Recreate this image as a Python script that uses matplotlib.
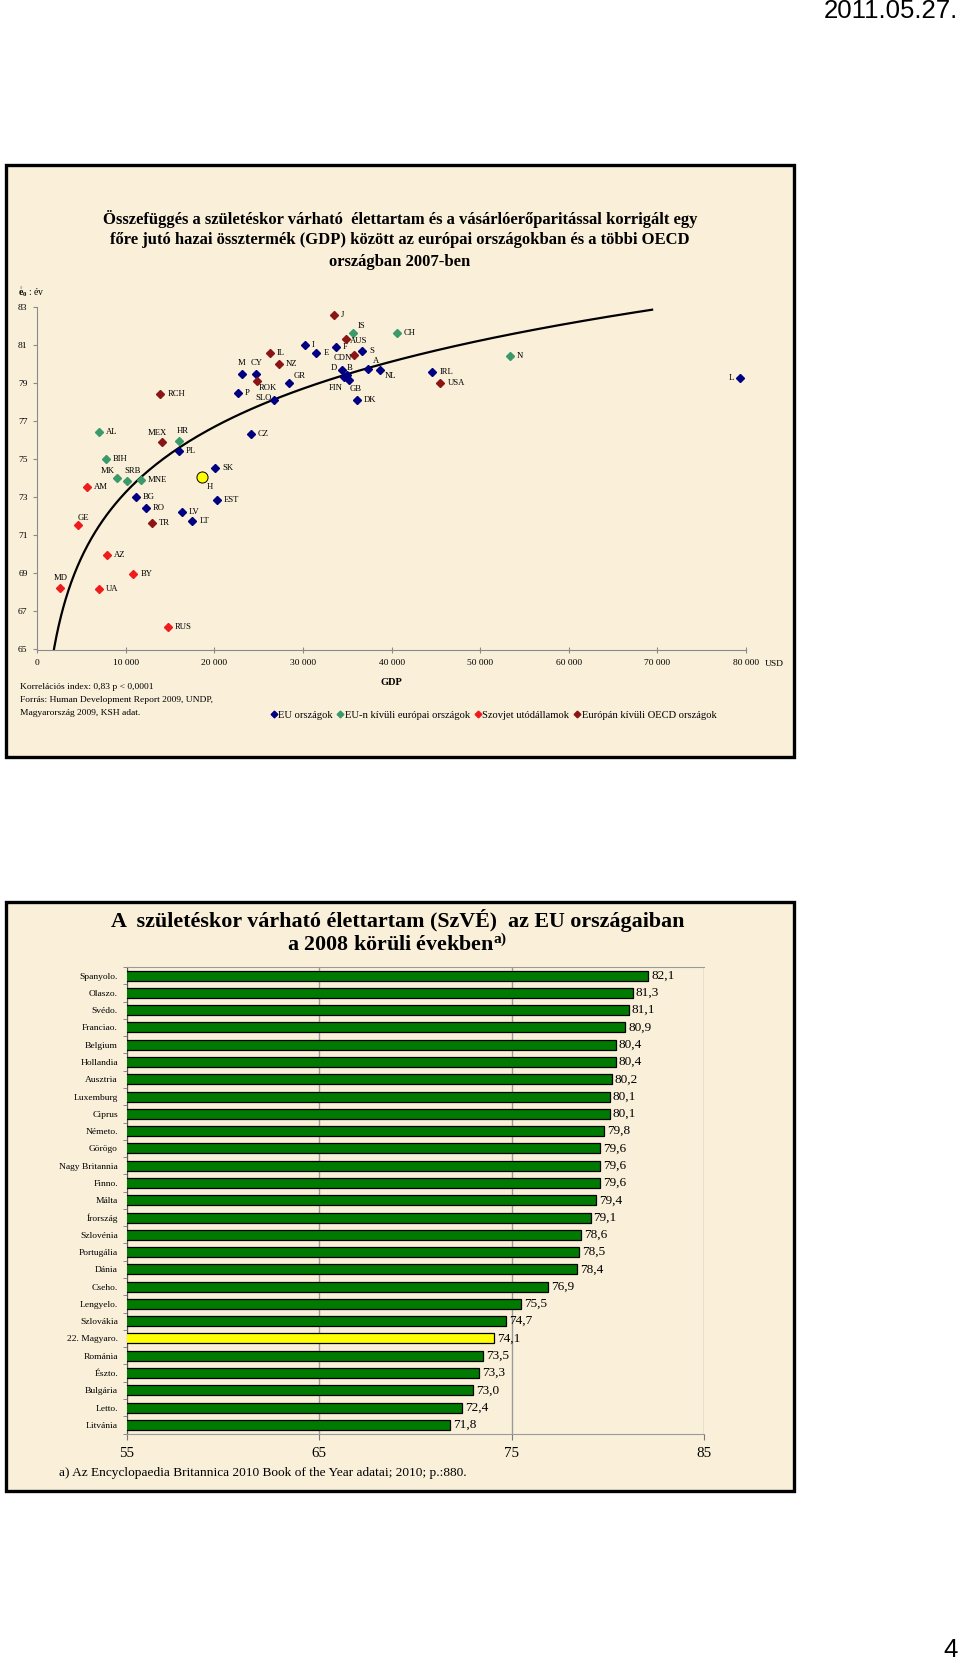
import numpy as np
import matplotlib
matplotlib.use("Agg")
import matplotlib.pyplot as plt
from matplotlib.lines import Line2D
from matplotlib.patches import Rectangle

# --- scatter: GDP per head (PPP, USD) vs life expectancy at birth (years), 2007
eu_codes = ["I", "F", "E", "S", "D", "B", "FIN", "GB", "A", "NL", "DK", "M", "CY", "GR", "P",
            "SLO", "CZ", "IRL", "L", "PL", "SK", "BG", "EST", "RO", "LV", "LT"]
eu_gdp = [30200, 33700, 31500, 36650, 34350, 34950, 34600, 35200, 37300, 38700, 36100, 23100,
          24700, 28450, 22650, 26700, 24100, 44600, 79300, 15950, 20050, 11150, 20300, 12250,
          16300, 17500]
eu_e0 = [81.03, 80.90, 80.60, 80.73, 79.71, 79.46, 79.32, 79.18, 79.78, 79.71, 78.13, 79.48,
         79.48, 79.01, 78.52, 78.13, 76.36, 79.62, 79.31, 75.45, 74.55, 73.03, 72.87, 72.43,
         72.25, 71.75]

eur_codes = ["IS", "CH", "N", "AL", "HR", "BIH", "MK", "SRB", "MNE"]
eur_gdp = [35650, 40550, 53350, 6950, 15950, 7750, 9050, 10150, 11700]
eur_e0 = [81.64, 81.64, 80.43, 76.43, 75.96, 75.03, 74.03, 73.85, 73.92]

sov_codes = ["AM", "GE", "AZ", "BY", "MD", "UA", "RUS"]
sov_gdp = [5650, 4650, 7850, 10850, 2550, 6950, 14700]
sov_e0 = [73.54, 71.53, 69.97, 68.99, 68.25, 68.18, 66.18]

oecd_codes = ["J", "AUS", "CDN", "IL", "NZ", "ROK", "RCH", "USA", "MEX", "TR"]
oecd_gdp = [33500, 34800, 35750, 26250, 27250, 24750, 13900, 45500, 14050, 12950]
oecd_e0 = [82.60, 81.34, 80.50, 80.62, 80.00, 79.13, 78.43, 79.03, 75.92, 71.66]

hu_code = "H"
hu_gdp = 18600
hu_e0 = 74.06

# the trend line of the original stops here and leaves Luxembourg out
trend_end = 69400
trend_skip = ["L"]

legend_labels = ["EU országok", "EU-n kívüli európai országok", "Szovjet utódállamok",
                 "Európán kívüli OECD országok"]

# --- bar chart: life expectancy in EU countries around 2008
countries = ["Spanyolo.", "Olaszo.", "Svédo.", "Franciao.", "Belgium", "Hollandia", "Ausztria",
             "Luxemburg", "Ciprus", "Németo.", "Görögo", "Nagy Britannia", "Finno.", "Málta",
             "Írország", "Szlovénia", "Portugália", "Dánia", "Cseho.", "Lengyelo.", "Szlovákia",
             "22. Magyaro.", "Románia", "Észto.", "Bulgária", "Letto.", "Litvánia"]
life_exp = [82.1, 81.3, 81.1, 80.9, 80.4, 80.4, 80.2, 80.1, 80.1, 79.8, 79.6, 79.6, 79.6, 79.4,
            79.1, 78.6, 78.5, 78.4, 76.9, 75.5, 74.7, 74.1, 73.5, 73.3, 73.0, 72.4, 71.8]
highlight = "22. Magyaro."

# label placement (pixels) for the scatter codes: dx, dy, ha
lab_pos = {"IS": (5, 7, "left"), "AUS": (4, -2, "left"), "CDN": (-2, -3, "right"),
           "A": (5, 8, "left"), "NL": (5, -6, "left"), "D": (-5, 2, "right"),
           "B": (0, 7, "left"), "FIN": (-8, -11, "center"), "GB": (6, -9, "center"),
           "GR": (4, 7, "left"), "M": (0, 11, "center"), "CY": (1, 11, "center"),
           "ROK": (2, -7, "left"), "SLO": (-2, 2, "right"), "L": (-6, 0, "right"),
           "MEX": (-4, 9, "center"), "HR": (4, 10, "center"), "MK": (-10, 7, "center"),
           "SRB": (5, 10, "center"), "H": (5, -10, "left"), "GE": (5, 7, "center"),
           "MD": (1, 10, "center")}

W, H = 960, 1662
serif = "Liberation Serif"
cream = "#FAF0DA"
plt.rcParams["font.family"] = serif
plt.rcParams["mathtext.fontset"] = "custom"
plt.rcParams["mathtext.rm"] = serif
plt.rcParams["mathtext.it"] = serif + ":italic"
plt.rcParams["mathtext.bf"] = serif + ":bold"


def fx(px):
    return px / W


def fy(py):
    return 1 - py / H


fig = plt.figure(figsize=(W / 100, H / 100), dpi=100)
fig.patch.set_facecolor("white")

# page furniture
fig.text(fx(958), fy(11), "2011.05.27.", ha="right", va="center", fontsize=18.5,
         family="Liberation Sans")
fig.text(fx(958), fy(1650), "4", ha="right", va="center", fontsize=18.5, family="Liberation Sans")

# frames
for top, bot in [(165, 757), (902, 1491)]:
    fig.add_artist(Rectangle((fx(6), fy(bot)), fx(794) - fx(6), fy(top) - fy(bot),
                             transform=fig.transFigure, facecolor=cream, edgecolor="black",
                             lw=2.4, zorder=0))

# ---------------- scatter ----------------
title1 = ["Összefüggés a születéskor várható  élettartam és a vásárlóerőparitással korrigált egy",
          "főre jutó hazai össztermék (GDP) között az európai országokban és a többi OECD",
          "országban 2007-ben"]
for i, line in enumerate(title1):
    fig.text(fx(400), fy(219 + 21.5 * i), line, ha="center", va="center", fontsize=12,
             fontweight="bold")

ax = fig.add_axes([fx(37.3), fy(649.5), fx(746) - fx(37.3), fy(307.5) - fy(649.5)])
ax.patch.set_alpha(0)
ax.set_xlim(0, 80000)
ax.set_ylim(65, 83)
for s in ["top", "right"]:
    ax.spines[s].set_visible(False)
for s in ["left", "bottom"]:
    ax.spines[s].set_color("#8a8a8a")
    ax.spines[s].set_linewidth(0.8)
ax.set_xticks(np.arange(0, 80001, 10000))
ax.set_xticklabels(["0", "10 000", "20 000", "30 000", "40 000", "50 000", "60 000", "70 000",
                    "80 000"])
ax.set_yticks(np.arange(65, 84, 2))
ax.tick_params(axis="x", direction="inout", length=4, color="#8a8a8a", labelsize=6.8, pad=5)
ax.tick_params(axis="y", direction="out", length=3, color="#8a8a8a", labelsize=6.8, pad=4)

groups = [(eu_codes, eu_gdp, eu_e0, "#000080"),
          (eur_codes, eur_gdp, eur_e0, "#3A9A6C"),
          (sov_codes, sov_gdp, sov_e0, "#EE1C1C"),
          (oecd_codes, oecd_gdp, oecd_e0, "#8B1414")]

fit_x, fit_y = [hu_gdp], [hu_e0]
for codes, gdp, e0, col in groups:
    for c, x, y in zip(codes, gdp, e0):
        if c not in trend_skip:
            fit_x.append(x)
            fit_y.append(y)
b, a = np.polyfit(np.log(fit_x), fit_y, 1)
tx = np.geomspace(800, trend_end, 300)
ax.plot(tx, a + b * np.log(tx), color="black", lw=1.6, zorder=2)

for codes, gdp, e0, col in groups:
    ax.plot(gdp, e0, ls="none", marker="D", ms=3.7, color=col, mec=col, zorder=3)
    for c, x, y in zip(codes, gdp, e0):
        dx, dy, ha = lab_pos.get(c, (7, 0, "left"))
        ax.annotate(c, (x, y), xytext=(dx, dy), textcoords="offset pixels", ha=ha,
                    va="center", fontsize=6.2)
ax.plot([hu_gdp], [hu_e0], ls="none", marker="o", ms=8, mfc="#FFFF00", mec="black", mew=0.7,
        zorder=4)
dx, dy, ha = lab_pos[hu_code]
ax.annotate(hu_code, (hu_gdp, hu_e0), xytext=(dx, dy), textcoords="offset pixels", ha=ha,
            va="center", fontsize=6.2)

fig.text(fx(18), fy(292), r"$\mathring{\mathbf{e}}_{\mathbf{0}}$ : év", ha="left", va="center",
         fontsize=7)
fig.text(fx(765), fy(663.5), "USD", ha="left", va="center", fontsize=6.8)
fig.text(fx(391), fy(683), "GDP", ha="center", va="center", fontsize=7.5, fontweight="bold")
notes = ["Korrelációs index: 0,83 p < 0,0001", "Forrás: Human Development Report 2009, UNDP,",
         "Magyarország 2009, KSH adat."]
for i, line in enumerate(notes):
    fig.text(fx(20), fy(687 + 13 * i), line, ha="left", va="center", fontsize=6.8)

handles = [Line2D([], [], ls="none", marker="D", ms=3.4, color=g[3]) for g in groups]
fig.legend(handles, legend_labels, loc="center", bbox_to_anchor=(fx(494), fy(715)), ncol=4,
           frameon=False, fontsize=7.6, handlelength=0.4, handletextpad=0.25,
           columnspacing=0.5, borderpad=0)

# ---------------- bar chart ----------------
fig.text(fx(398), fy(921), "A  születéskor várható élettartam (SzVÉ)  az EU országaiban",
         ha="center", va="center", fontsize=15.8, fontweight="bold")
fig.text(fx(397), fy(945), r"a 2008 körüli években$^{\mathbf{a)}}$", ha="center", va="center",
         fontsize=15.8, fontweight="bold")

ax2 = fig.add_axes([fx(127), fy(1433.5), fx(704) - fx(127), fy(967) - fy(1433.5)])
ax2.patch.set_alpha(0)
n = len(countries)
ypos = np.arange(n)
colors = ["#FFFF00" if c == highlight else "#007A00" for c in countries]
ax2.barh(ypos, life_exp, height=0.58, color=colors, edgecolor="black", lw=0.9, zorder=3)
ax2.set_xlim(55, 85)
ax2.set_ylim(n - 0.5, -0.5)
ax2.set_xticks([55, 65, 75, 85])
ax2.set_yticks(ypos)
ax2.set_yticklabels(countries)
ax2.set_yticks(np.arange(n + 1) - 0.5, minor=True)
ax2.tick_params(axis="y", which="major", length=0, labelsize=6.8, pad=6.5)
ax2.tick_params(axis="y", which="minor", length=3, color="#7a7a7a")
ax2.tick_params(axis="x", length=4, color="#7a7a7a", labelsize=10.8, pad=6)
ax2.grid(axis="x", color="#9a9a9a", lw=1, zorder=0)
ax2.spines["right"].set_visible(False)
for s in ["top", "bottom"]:
    ax2.spines[s].set_color("#9a9a9a")
ax2.spines["left"].set_color("#555555")
for i, v in enumerate(life_exp):
    ax2.annotate(f"{v:.1f}".replace(".", ","), (v, i), xytext=(3, 0), textcoords="offset pixels",
                 ha="left", va="center", fontsize=9.5)

fig.text(fx(59), fy(1473),
         "a) Az Encyclopaedia Britannica 2010 Book of the Year adatai; 2010; p.:880.",
         ha="left", va="center", fontsize=9.6)

fig.savefig("out.png", dpi=100)
